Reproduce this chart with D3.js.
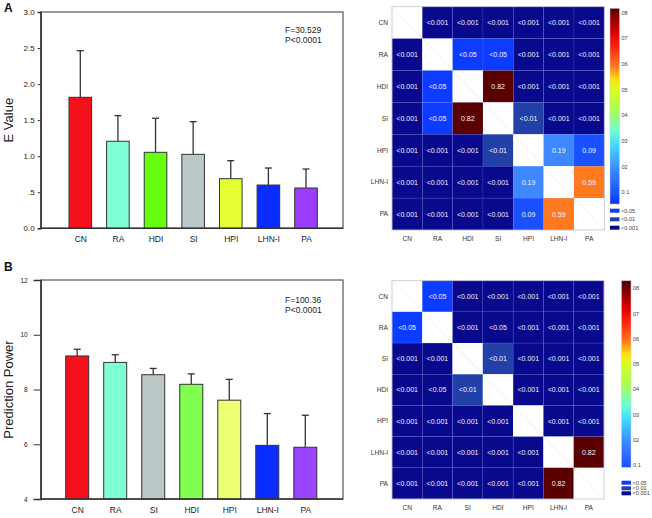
<!DOCTYPE html>
<html><head><meta charset="utf-8">
<script src="https://cdn.jsdelivr.net/npm/d3@7"></script>
<style>body{margin:0;background:#fff}svg{display:block;font-family:Arial,"Liberation Sans",sans-serif}</style>
</head><body><svg id="c" width="652" height="518"></svg>
<script>
// ---------- data ----------
const catsA = ["CN","RA","HDI","SI","HPI","LHN-I","PA"];
const meanA = [1.817,1.207,1.054,1.026,0.688,0.600,0.559];
const errA  = [2.463,1.562,1.526,1.479,0.938,0.836,0.822];
const colA  = ["#f5111c","#7effd6","#66ff10","#b9c7c7","#e6ff34","#0a2cff","#9a3dff"];
const ticksA = [0,0.5,1,1.5,2,2.5,3];
const tickLabA = ["0.0",".5","1.0","1.5","2.0","2.5","3.0"];

const catsB = ["CN","RA","SI","HDI","HPI","LHN-I","PA"];
const meanB = [9.225,8.99,8.54,8.19,7.61,5.96,5.89];
const errB  = [9.47,9.27,8.77,8.57,8.37,7.12,7.06];
const colB  = ["#f5111c","#7effd6","#bcc8c8","#80ff4e","#eeff72","#0a2cff","#9a44ff"];
const ticksB = [4,6,8,10,12];

const heatA = [
 ["","<0.001","<0.001","<0.001","<0.001","<0.001","<0.001"],
 ["<0.001","","<0.05","<0.05","<0.001","<0.001","<0.001"],
 ["<0.001","<0.05","","0.82","<0.001","<0.001","<0.001"],
 ["<0.001","<0.05","0.82","","<0.01","<0.001","<0.001"],
 ["<0.001","<0.001","<0.001","<0.01","","0.19","0.09"],
 ["<0.001","<0.001","<0.001","<0.001","0.19","","0.59"],
 ["<0.001","<0.001","<0.001","<0.001","0.09","0.59",""]
];
const heatB = [
 ["","<0.05","<0.001","<0.001","<0.001","<0.001","<0.001"],
 ["<0.05","","<0.001","<0.05","<0.001","<0.001","<0.001"],
 ["<0.001","<0.001","","<0.01","<0.001","<0.001","<0.001"],
 ["<0.001","<0.05","<0.01","","<0.001","<0.001","<0.001"],
 ["<0.001","<0.001","<0.001","<0.001","","<0.001","<0.001"],
 ["<0.001","<0.001","<0.001","<0.001","<0.001","","0.82"],
 ["<0.001","<0.001","<0.001","<0.001","<0.001","0.82",""]
];
// shade used for fill in panel B (two "<0.05" cells are drawn in the darkest shade)
const heatBShade = [
 ["","<0.05","<0.001","<0.001","<0.001","<0.001","<0.001"],
 ["<0.05","","<0.001","<0.001","<0.001","<0.001","<0.001"],
 ["<0.001","<0.001","","<0.01","<0.001","<0.001","<0.001"],
 ["<0.001","<0.001","<0.01","","<0.001","<0.001","<0.001"],
 ["<0.001","<0.001","<0.001","<0.001","","<0.001","<0.001"],
 ["<0.001","<0.001","<0.001","<0.001","<0.001","","0.82"],
 ["<0.001","<0.001","<0.001","<0.001","<0.001","0.82",""]
];
const cbTicks = [0.1,0.2,0.3,0.4,0.5,0.6,0.7,0.8];
const cbTickLab = ["0.1","02","03","04","05","06","07","08"];
const legendCats = ["<0.05","<0.01","<0.001"];

// ---------- styles ----------
const catColor = {"<0.05":"#0c3cff","<0.01":"#2140a8","<0.001":"#08098c"};
const jetStops = [[0.05,"#0a2cff"],[0.09,"#1a50ff"],[0.19,"#3d88ff"],[0.28,"#40d8ff"],[0.34,"#70ffd0"],
  [0.42,"#a8ff50"],[0.5,"#d8ff20"],[0.54,"#ffe010"],[0.59,"#ff7a1e"],[0.66,"#ff2a10"],[0.72,"#e00000"],[0.82,"#5a0000"]];
const jet = d3.scaleLinear().domain(jetStops.map(d=>d[0])).range(jetStops.map(d=>d[1])).clamp(true);

const svg = d3.select("#c");
const defs = svg.append("defs");

function barPanel(o){
  const g = svg.append("g");
  const x = d3.scalePoint().domain(o.cats).range([o.cx0,o.cx1]);
  const y = d3.scaleLinear().domain(o.domain).range([o.bottom,o.top]);
  g.append("rect").attr("x",o.left).attr("y",o.top).attr("width",o.right-o.left).attr("height",o.bottom-o.top)
    .attr("fill","none").attr("stroke","#555").attr("stroke-width",1.2);
  const bw = o.bw;
  g.selectAll(".err").data(o.cats).join("g").each(function(c,i){
    const s = d3.select(this);
    s.append("line").attr("x1",x(c)).attr("x2",x(c)).attr("y1",y(o.mean[i])).attr("y2",y(o.err[i])).attr("stroke","#333").attr("stroke-width",1.3);
    s.append("line").attr("x1",x(c)-3.5).attr("x2",x(c)+3.5).attr("y1",y(o.err[i])).attr("y2",y(o.err[i])).attr("stroke","#333").attr("stroke-width",1.3);
  });
  g.selectAll(".bar").data(o.cats).join("rect")
    .attr("x",c=>x(c)-bw/2).attr("width",bw)
    .attr("y",(c,i)=>y(o.mean[i])).attr("height",(c,i)=>y(o.domain[0])-y(o.mean[i]))
    .attr("fill",(c,i)=>o.colors[i]).attr("stroke","#333").attr("stroke-width",1);
  const ya = g.append("g").attr("transform",`translate(${o.left},0)`)
    .call(d3.axisLeft(y).tickValues(o.ticks).tickSize(o.tickLen).tickPadding(o.tickPad).tickFormat((d,i)=>o.tickLab[i]));
  ya.select(".domain").attr("stroke","#333").attr("stroke-width",1.4);
  ya.selectAll(".tick line").attr("stroke","#333");
  ya.selectAll("text").attr("font-size",o.tickFs).attr("fill","#222").attr("font-family","Arial, Liberation Sans, sans-serif");
  const xa = g.append("g").attr("transform",`translate(0,${o.bottom})`)
    .call(d3.axisBottom(x).tickSize(0).tickPadding(8));
  xa.select(".domain").attr("d",`M${o.left},0H${o.right}`).attr("stroke","#333").attr("stroke-width",1.4);
  xa.selectAll("text").attr("font-size",8.5).attr("fill","#222").attr("font-family","Arial, Liberation Sans, sans-serif");
  g.append("text").attr("transform",`translate(${o.titleX},${(o.top+o.bottom)/2}) rotate(-90)`)
    .attr("text-anchor","middle").attr("font-size",13).attr("fill","#222").text(o.title);
  g.append("text").attr("x",o.statX).attr("y",o.statY).attr("font-size",8.5).attr("fill","#222").text(o.stat1);
  g.append("text").attr("x",o.statX).attr("y",o.statY+10).attr("font-size",8.5).attr("fill","#222").text(o.stat2);
  svg.append("text").attr("x",4).attr("y",o.letterY).attr("font-size",12).attr("font-weight","bold").attr("fill","#111").text(o.letter);
}

barPanel({cats:catsA,mean:meanA,err:errA,colors:colA,domain:[0,3],ticks:ticksA,tickLab:tickLabA,
  left:40.7,right:343,top:12,bottom:228.3,cx0:80.3,cx1:306,bw:22.6,tickLen:3,tickPad:3,tickFs:8,
  title:"E Value",titleX:13,statX:285,statY:32.5,stat1:"F=30.529",stat2:"P<0.0001",letter:"A",letterY:12});
barPanel({cats:catsB,mean:meanB,err:errB,colors:colB,domain:[4,12],ticks:ticksB,tickLab:ticksB.map(String),
  left:40.7,right:343,top:280,bottom:499,cx0:77.2,cx1:305.3,bw:23,tickLen:7,tickPad:6,tickFs:6.5,
  title:"Prediction Power",titleX:13,statX:285,statY:303,stat1:"F=100.36",stat2:"P<0.0001",letter:"B",letterY:271});

function heatPanel(o){
  const g = svg.append("g");
  const xs = d3.scaleBand().domain(o.cats).range([o.left,o.right]);
  const ys = d3.scaleBand().domain(o.cats).range([o.top,o.bottom]);
  const cells = [];
  o.labels.forEach((row,i)=>row.forEach((v,j)=>cells.push({r:o.cats[i],c:o.cats[j],v,shade:o.shade[i][j]})));
  const fill = d=> d.shade==="" ? "#ffffff" : (catColor[d.shade] || jet(+d.shade));
  g.selectAll(".cell").data(cells).join("rect")
    .attr("x",d=>xs(d.c)).attr("y",d=>ys(d.r)).attr("width",xs.bandwidth()).attr("height",ys.bandwidth())
    .attr("fill",fill).attr("stroke",d=>d.v===""?"none":"rgba(120,140,255,0.35)").attr("stroke-width",0.5);
  g.selectAll(".diag").data(cells.filter(d=>d.v==="")).join("line")
    .attr("x1",d=>xs(d.c)).attr("y1",d=>ys(d.r)).attr("x2",d=>xs(d.c)+xs.bandwidth()).attr("y2",d=>ys(d.r)+ys.bandwidth())
    .attr("stroke","#e6e6e6").attr("stroke-width",0.6);
  g.selectAll(".txt").data(cells.filter(d=>d.v!=="")).join("text")
    .attr("x",d=>xs(d.c)+xs.bandwidth()/2).attr("y",d=>ys(d.r)+ys.bandwidth()/2+2.5)
    .attr("text-anchor","middle").attr("font-size",7).attr("fill","#f4f4ff").text(d=>d.v);
  g.append("rect").attr("x",o.left).attr("y",o.top).attr("width",o.right-o.left).attr("height",o.bottom-o.top)
    .attr("fill","none").attr("stroke","#c4c4cc").attr("stroke-width",0.8);
  g.selectAll(".rl").data(o.cats).join("text").attr("x",o.left-4).attr("y",d=>ys(d)+ys.bandwidth()/2+2.3)
    .attr("text-anchor","end").attr("font-size",6.6).attr("fill","#333").text(d=>d);
  g.selectAll(".cl").data(o.cats).join("text").attr("x",d=>xs(d)+xs.bandwidth()/2).attr("y",o.bottom+11)
    .attr("text-anchor","middle").attr("font-size",6.6).attr("fill","#333").text(d=>d);
  const cy = d3.scaleLinear().domain([0.1,0.8]).range([o.cb01,o.cb08]);
  const gid = "grad"+o.id;
  const grad = defs.append("linearGradient").attr("id",gid).attr("x1",0).attr("y1",1).attr("x2",0).attr("y2",0);
  const vLo = cy.invert(o.cbBottom), vHi = cy.invert(o.cbTop);
  jetStops.forEach(s=>{
    const off = Math.max(0,Math.min(1,(s[0]-vLo)/(vHi-vLo)));
    grad.append("stop").attr("offset",off).attr("stop-color",s[1]);
  });
  g.append("rect").attr("x",o.cbX).attr("y",o.cbTop).attr("width",o.cbW).attr("height",o.cbBottom-o.cbTop)
    .attr("fill",`url(#${gid})`).attr("stroke","#ccc").attr("stroke-width",0.5);
  g.selectAll(".cbt").data(cbTicks).join("text").attr("x",o.cbX+o.cbW+2).attr("y",d=>cy(d)+2)
    .attr("font-size",5.6).attr("fill","#444").text((d,i)=>cbTickLab[i]);
  g.selectAll(".lg").data(legendCats).join("rect").attr("x",o.cbX).attr("y",(d,i)=>o.legY[i]-2)
    .attr("width",o.cbW).attr("height",4).attr("fill",d=>catColor[d]);
  g.selectAll(".lgt").data(legendCats).join("text").attr("x",o.cbX+o.cbW+1.5).attr("y",(d,i)=>o.legY[i]+2)
    .attr("font-size",5.6).attr("fill","#444").text(d=>d);
}

heatPanel({id:"A",cats:catsA,labels:heatA,shade:heatA,left:392,right:604.3,top:6.7,bottom:230,
  cbX:610,cbW:9.5,cbTop:8.3,cbBottom:204,cb01:192.3,cb08:12.7,legY:[210.7,219.3,227.7]});
heatPanel({id:"B",cats:catsB,labels:heatB,shade:heatBShade,left:392,right:604,top:280.7,bottom:499,
  cbX:621.5,cbW:9.5,cbTop:280.7,cbBottom:467.3,cb01:465,cb08:288.3,legY:[482.7,488.3,493.3]});
</script></body></html>
